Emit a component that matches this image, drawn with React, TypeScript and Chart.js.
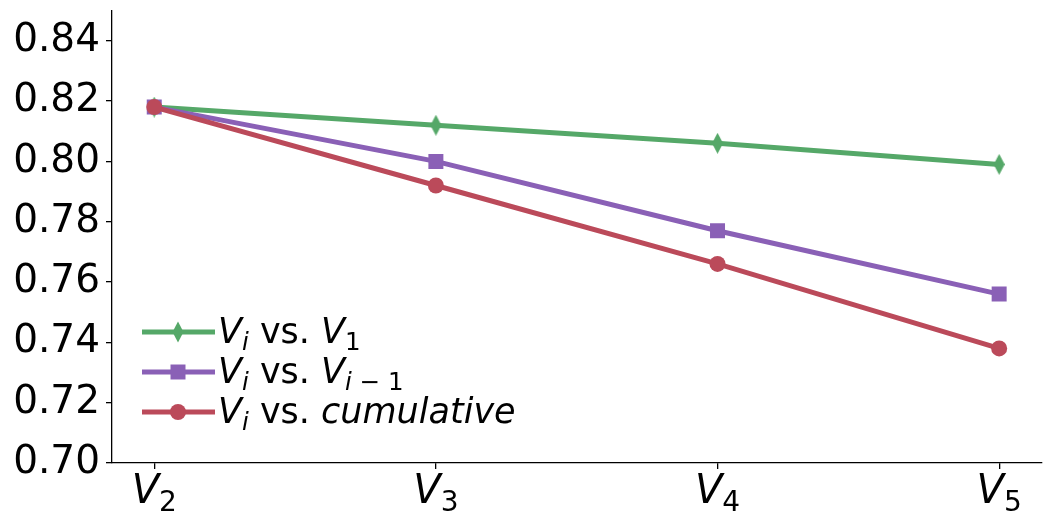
import { useEffect, useRef } from "react";
import { Chart, registerables } from "chart.js";

Chart.register(...registerables);

// chart data
const categories = ["$V_2$", "$V_3$", "$V_4$", "$V_5$"];
const seriesLabels = ["$V_i$ vs. $V_1$", "$V_i$ vs. $V_{i-1}$", "$V_i$ vs. $cumulative$"];
const vsFirst = [0.818, 0.812, 0.806, 0.799];
const vsPrevious = [0.818, 0.8, 0.777, 0.756];
const vsCumulative = [0.818, 0.792, 0.766, 0.738];
const yTicks = [0.7, 0.72, 0.74, 0.76, 0.78, 0.8, 0.82, 0.84];

const colors = ["#55a868", "#8a60b6", "#bb4a5a"];
const markers = ["diamond", "square", "circle"];
const FONT = "'DejaVu Sans', sans-serif";

type Run = { text: string; italic: boolean; sub: boolean };

// tiny mathtext-ish parser: $V_i$ -> italic V, subscript i
function parseMath(s: string): Run[] {
  const runs: Run[] = [];
  s.split("$").forEach((part, idx) => {
    if (idx % 2 === 0) {
      if (part) runs.push({ text: part, italic: false, sub: false });
      return;
    }
    const push = (str: string, sub: boolean) => {
      for (const ch of str) {
        if (ch === "-") runs.push({ text: " \u2212 ", italic: false, sub });
        else runs.push({ text: ch, italic: /[a-zA-Z]/.test(ch), sub });
      }
    };
    let i = 0;
    while (i < part.length) {
      if (part[i] === "_") {
        let grp: string;
        if (part[i + 1] === "{") {
          const end = part.indexOf("}", i);
          grp = part.slice(i + 2, end);
          i = end + 1;
        } else {
          grp = part[i + 1];
          i += 2;
        }
        push(grp, true);
      } else {
        push(part[i], false);
        i++;
      }
    }
  });
  return runs;
}

function setFont(ctx: CanvasRenderingContext2D, r: Run, size: number) {
  const s = r.sub ? size * 0.7 : size;
  ctx.font = `${r.italic ? "italic " : ""}${s}px ${FONT}`;
}

function measureRuns(ctx: CanvasRenderingContext2D, runs: Run[], size: number) {
  let w = 0;
  for (const r of runs) {
    setFont(ctx, r, size);
    w += ctx.measureText(r.text).width;
  }
  return w;
}

function drawRuns(ctx: CanvasRenderingContext2D, runs: Run[], x: number, baseline: number, size: number) {
  ctx.textBaseline = "alphabetic";
  ctx.textAlign = "left";
  ctx.fillStyle = "#000";
  for (const r of runs) {
    setFont(ctx, r, size);
    ctx.fillText(r.text, x, baseline + (r.sub ? size * 0.21 : 0));
    x += ctx.measureText(r.text).width;
  }
}

function makeDiamond(color: string) {
  const c = document.createElement("canvas");
  c.width = 11;
  c.height = 21;
  const g = c.getContext("2d")!;
  g.fillStyle = color;
  g.beginPath();
  g.moveTo(5.5, 0);
  g.lineTo(11, 10.5);
  g.lineTo(5.5, 21);
  g.lineTo(0, 10.5);
  g.closePath();
  g.fill();
  return c;
}

function drawMarker(ctx: CanvasRenderingContext2D, kind: string, x: number, y: number, color: string) {
  ctx.fillStyle = color;
  ctx.beginPath();
  if (kind === "diamond") {
    ctx.moveTo(x, y - 10.5);
    ctx.lineTo(x + 5.5, y);
    ctx.lineTo(x, y + 10.5);
    ctx.lineTo(x - 5.5, y);
    ctx.closePath();
  } else if (kind === "square") {
    ctx.rect(x - 7.5, y - 7.5, 15, 15);
  } else {
    ctx.arc(x, y, 8, 0, Math.PI * 2);
  }
  ctx.fill();
}

const mathTicksPlugin = {
  id: "mathTicks",
  afterDraw(chart: any) {
    const ctx: CanvasRenderingContext2D = chart.ctx;
    const xs = chart.scales.x;
    ctx.save();
    xs.ticks.forEach((t: any) => {
      const runs = parseMath(categories[t.value]);
      const w = measureRuns(ctx, runs, 40);
      const px = xs.getPixelForValue(t.value);
      drawRuns(ctx, runs, px - w / 2, xs.top + 40, 40);
    });
    ctx.restore();
  },
};

const mathLegendPlugin = {
  id: "mathLegend",
  afterDraw(chart: any) {
    const ctx: CanvasRenderingContext2D = chart.ctx;
    const left = chart.chartArea.left + 30;
    const firstRow = 332;
    ctx.save();
    seriesLabels.forEach((label, i) => {
      const y = firstRow + i * 40;
      ctx.strokeStyle = colors[i];
      ctx.lineWidth = 5;
      ctx.beginPath();
      ctx.moveTo(left, y);
      ctx.lineTo(left + 73, y);
      ctx.stroke();
      drawMarker(ctx, markers[i], left + 36, y, colors[i]);
      drawRuns(ctx, parseMath(label), left + 76, y + 11, 35);
    });
    ctx.restore();
  },
};

const App = () => {
  const canvasRef = useRef<HTMLCanvasElement | null>(null);
  const chartRef = useRef<Chart | null>(null);

  useEffect(() => {
    document.body.style.margin = "0";
    if (chartRef.current !== null) chartRef.current.destroy();
    if (canvasRef.current === null) return;

    const series = [vsFirst, vsPrevious, vsCumulative];
    const pointStyles: any[] = [makeDiamond(colors[0]), "rect", "circle"];
    const radii = [8, 10.6, 8];

    chartRef.current = new Chart(canvasRef.current, {
      type: "line",
      data: {
        datasets: series.map((vals, i) => ({
          label: seriesLabels[i],
          data: vals.map((v, j) => ({ x: j, y: v })),
          borderColor: colors[i],
          backgroundColor: colors[i],
          borderWidth: 5,
          pointStyle: pointStyles[i],
          pointRadius: radii[i],
          pointBorderWidth: 0,
          tension: 0,
          order: 3 - i,
        })),
      },
      options: {
        animation: false,
        responsive: true,
        maintainAspectRatio: false,
        layout: { padding: { top: 10, right: 10, left: 0, bottom: 0 } },
        plugins: { legend: { display: false }, tooltip: { enabled: false } },
        scales: {
          x: {
            type: "linear",
            min: -0.15,
            max: 3.15,
            afterBuildTicks: (scale: any) => {
              scale.ticks = categories.map((_, i) => ({ value: i }));
            },
            afterFit: (scale: any) => {
              scale.height = 60;
              scale.paddingLeft = 0;
              scale.paddingRight = 0;
            },
            ticks: { display: false },
            grid: { display: true, drawOnChartArea: false, drawTicks: true, tickLength: 6, color: "#000", lineWidth: 1.3 },
            border: { display: true, color: "#000", width: 1.3 },
          },
          y: {
            min: 0.7,
            max: 0.85,
            afterBuildTicks: (scale: any) => {
              scale.ticks = yTicks.map((v) => ({ value: v }));
            },
            afterFit: (scale: any) => {
              scale.width = 112;
              scale.paddingTop = 0;
              scale.paddingBottom = 0;
            },
            ticks: {
              padding: 6,
              color: "#000",
              font: { family: FONT, size: 39 },
              callback: (v: any) => Number(v).toFixed(2),
            },
            grid: { display: true, drawOnChartArea: false, drawTicks: true, tickLength: 6, color: "#000", lineWidth: 1.3 },
            border: { display: true, color: "#000", width: 1.3 },
          },
        },
      },
      plugins: [mathTicksPlugin, mathLegendPlugin],
    });

    return () => {
      if (chartRef.current !== null) {
        chartRef.current.destroy();
        chartRef.current = null;
      }
    };
  }, []);

  return (
    <div style={{ width: 1052, height: 523, position: "relative", background: "#fff" }}>
      <canvas ref={canvasRef} />
    </div>
  );
};

export default App;
